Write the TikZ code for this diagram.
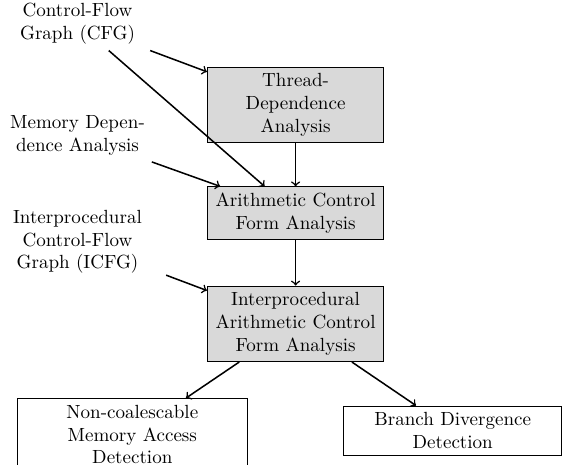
\documentclass[tikz,border=0pt]{standalone}
\begin{document}
\begin{tikzpicture}[x=0.525pt,y=-0.525pt,
  proc/.style={draw, line width=0.5pt, fill=gray!30, text width=86pt, align=center, inner sep=3.33pt},
  outbox/.style={draw, line width=0.5pt, align=center, inner sep=3.33pt},
  lbl/.style={align=center, inner sep=3.33pt},
  arr/.style={->, thick}]
\useasboundingbox (0,0) rectangle (563,465);
% labels
\node[lbl, text width=2.5cm] (cfg) at (77.5,23.3) {Control-Flow\\Graph (CFG)};
\node[lbl, text width=2.5cm] (mem) at (77.5,135.3) {Memory Depen-\\dence Analysis};
\node[lbl, text width=86pt] (icfg) at (77.5,241.9) {Interprocedural\\Control-Flow\\Graph (ICFG)};
% process boxes
\node[proc] (thread) at (295.6,105) {Thread-\\Dependence\\Analysis};
\node[proc] (acf) at (295.6,213.4) {Arithmetic Control\\Form Analysis};
\node[proc] (iacf) at (295.6,323.8) {Interprocedural\\Arithmetic Control\\Form Analysis};
% outputs
\node[outbox, text width=114pt] (nca) at (132.3,434.5) {Non-coalescable\\Memory Access\\Detection};
\node[outbox, text width=108pt] (bdd) at (452.7,430.5) {Branch Divergence\\Detection};
% connectors
\draw[arr] (cfg) -- (thread);
\draw[arr] (cfg) -- (acf);
\draw[arr] (mem) -- (acf);
\draw[arr] (thread) -- (acf);
\draw[arr] (acf) -- (iacf);
\draw[arr] (icfg) -- (iacf);
\draw[arr] (iacf) -- (nca);
\draw[arr] (iacf) -- (bdd);
\end{tikzpicture}
\end{document}
